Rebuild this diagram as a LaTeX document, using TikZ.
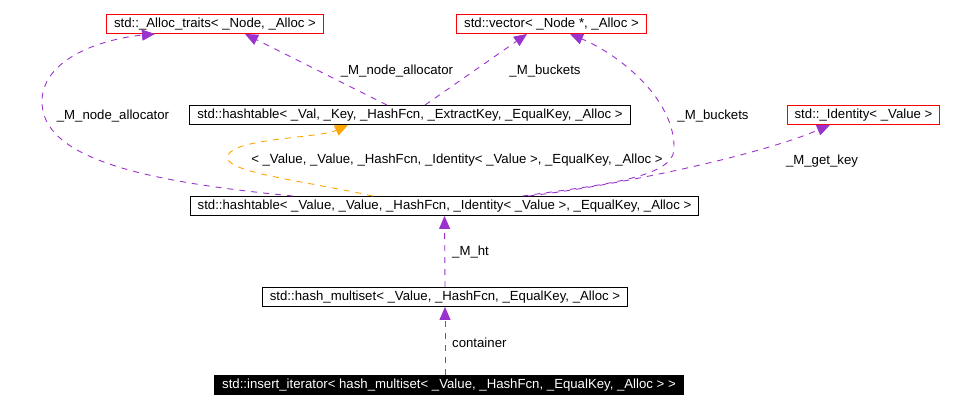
\documentclass[tikz,border=0pt]{standalone}
\usepackage{fontspec}
\setmainfont{Liberation Sans}
\usetikzlibrary{arrows.meta,calc}
\definecolor{purp}{HTML}{9A32CD}
\definecolor{orng}{HTML}{FFA500}
\newcommand{\fs}{\fontsize{13.2pt}{15pt}\selectfont}
\tikzset{
  box/.style={draw=black, rectangle, minimum height=19pt, inner xsep=7.5pt, inner ysep=2pt, font=\fs, line width=0.9pt},
  redbox/.style={box, draw=red},
  blackbox/.style={box, fill=black, text=white},
  dep/.style={draw=purp, line width=0.9pt, dash pattern=on 6pt off 6pt, -{Triangle[length=13pt,width=11pt]}},
  odep/.style={dep, draw=orng, -{Triangle[length=13pt,width=11pt,fill=orng]}},
  lbl/.style={font=\fs, inner sep=1pt}
}
\begin{document}
\begin{tikzpicture}[x=1pt,y=-1pt]
\useasboundingbox (0,0) rectangle (962,411);
\node[redbox] (at) at (215,24) {std::\_Alloc\_traits< \_Node, \_Alloc >};
\node[redbox] (vec) at (551.5,24) {std::vector< \_Node *, \_Alloc >};
\node[box] (htval) at (410,115) {std::hashtable< \_Val, \_Key, \_HashFcn, \_ExtractKey, \_EqualKey, \_Alloc >};
\node[redbox] (id) at (863.5,115) {std::\_Identity< \_Value >};
\node[box] (htv) at (444.5,206) {std::hashtable< \_Value, \_Value, \_HashFcn, \_Identity< \_Value >, \_EqualKey, \_Alloc >};
\node[box] (hms) at (445,297) {std::hash\_multiset< \_Value, \_HashFcn, \_EqualKey, \_Alloc >};
\node[blackbox] (ii) at (449,385) {std::insert\_iterator< hash\_multiset< \_Value, \_HashFcn, \_EqualKey, \_Alloc > >};

% left node allocator
\draw[dep] ($(htv.north)+(-151.5,0)$) .. controls (150,182) and (40,160) .. (42,100)
  .. controls (44,55) and (110,38) .. ($(at.south)+(-60,0)$);
\node[lbl] (l1) at (113,116) {\_M\_node\_allocator};
% right node allocator
\draw[dep] ($(htval.north)+(-23,0)$) -- ($(at.south)+(30,0)$);
\node[lbl] (l2) at (397,71) {\_M\_node\_allocator};
% short buckets
\draw[dep] ($(htval.north)+(15,0)$) -- ($(vec.south)+(-24.5,0)$);
\node[lbl] (l3) at (545,71) {\_M\_buckets};
% orange
\draw[odep] ($(htv.north)+(-71.5,0)$) .. controls (300,180) and (220,172) .. (228,155)
  .. controls (236,138) and (320,138) .. ($(htval.south)+(-62,0)$);
\node[lbl] (l4) at (457,160) {< \_Value, \_Value, \_HashFcn, \_Identity< \_Value >, \_EqualKey, \_Alloc >};
% long buckets
\draw[dep] ($(htv.north)+(78,0)$) .. controls (600,185) and (672,178) .. (674,150)
  .. controls (676,100) and (620,55) .. ($(vec.south)+(18.5,0)$);
\node[lbl] (l5) at (713,116) {\_M\_buckets};
% get key
\draw[dep] ($(htv.north)+(84,0)$) .. controls (620,185) and (760,155) .. ($(id.south)+(-33.5,0)$);
\node[lbl] (l6) at (822,161) {\_M\_get\_key};
% M_ht
\draw[dep] (hms.north) -- (htv.south);
\node[lbl, anchor=west] (l7) at (451,252) {\_M\_ht};
% container
\draw[dep] (ii.north -| hms.south) -- (hms.south);
\node[lbl, anchor=west] (l8) at (451,343) {container};
\end{tikzpicture}
\end{document}
